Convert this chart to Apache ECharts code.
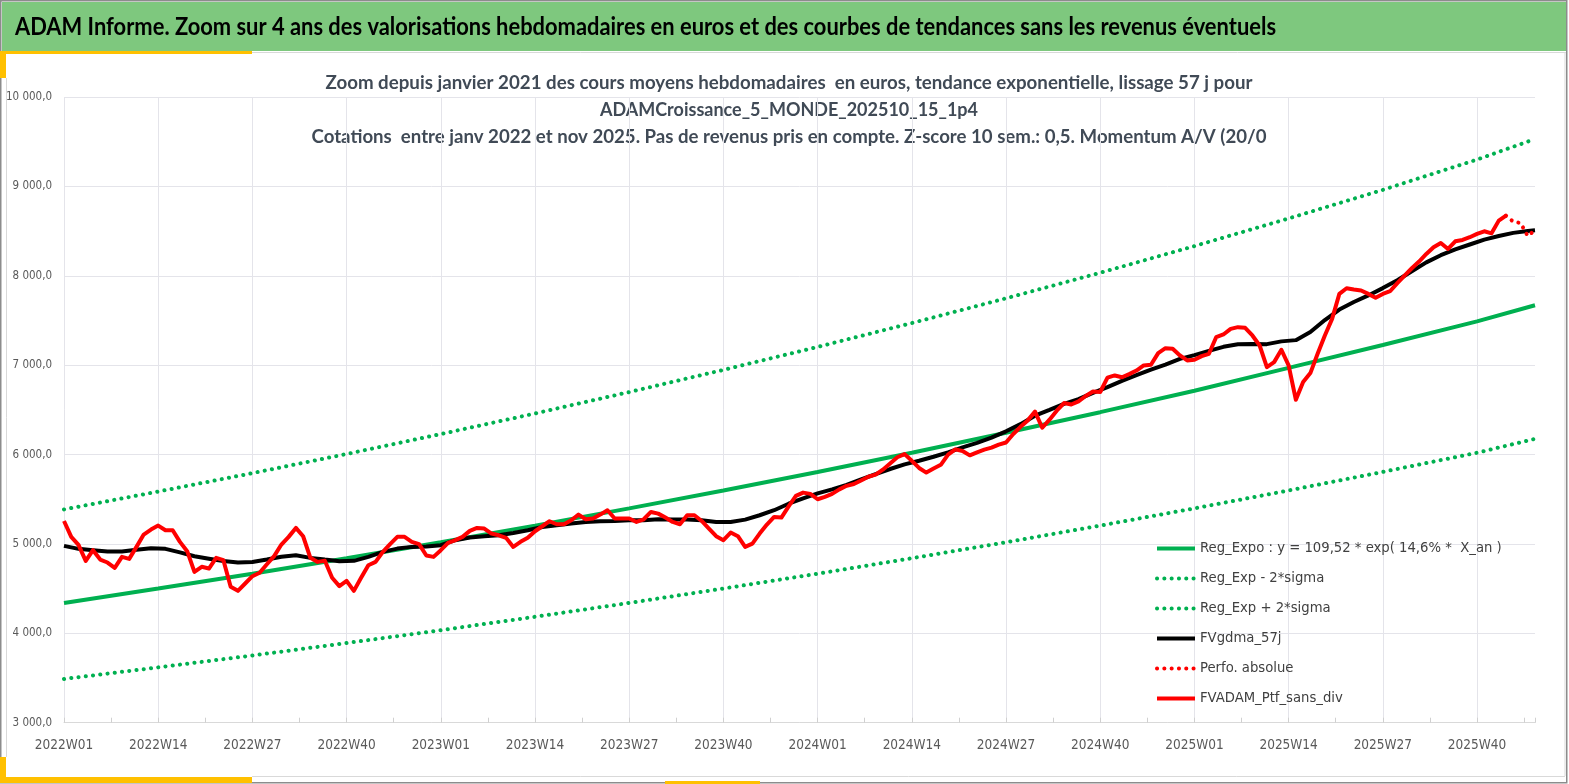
<!DOCTYPE html>
<html>
<head>
<meta charset="utf-8">
<script src="https://cdn.jsdelivr.net/npm/echarts@6/dist/echarts.min.js"></script>
<style>
html,body{margin:0;padding:0;background:#fff;}
#chart{width:1569px;height:784px;}
</style>
</head>
<body>
<div id="chart"></div>
<script>
// ---------- DATA ----------
const yearWeeks = [[2022, 52], [2023, 52], [2024, 52], [2025, 48]];
const weeks = [];
yearWeeks.forEach(([y, n]) => { for (let w = 1; w <= n; w++) weeks.push(y + 'W' + (w < 10 ? '0' + w : w)); });

const mainTitle = 'ADAM Informe. Zoom sur 4 ans des valorisations hebdomadaires en euros et des courbes de tendances sans les revenus éventuels';
const subTitles = [
  'Zoom depuis janvier 2021 des cours moyens hebdomadaires  en euros, tendance exponentielle, lissage 57 j pour',
  'ADAMCroissance_5_MONDE_202510_15_1p4',
  'Cotations  entre janv 2022 et nov 2025. Pas de revenus pris en compte. Z-score 10 sem.: 0,5. Momentum A/V (20/0'
];
const seriesNames = ['Reg_Expo : y = 109,52 * exp( 14,6% *  X_an )', 'Reg_Exp - 2*sigma', 'Reg_Exp + 2*sigma', 'FVgdma_57j', 'Perfo. absolue', 'FVADAM_Ptf_sans_div'];

// [week index, value]
const regExpo = [[0,4340],[13,4501],[26,4667],[39,4840],[52,5019],[65,5205],[78,5398],[91,5598],[104,5805],[117,6020],[130,6243],[143,6474],[156,6714],[169,6970],[182,7225],[195,7490],[203,7670]];
const regLow  = [[0,3489],[13,3619],[26,3752],[39,3891],[52,4035],[65,4185],[78,4340],[91,4501],[104,4667],[117,4840],[130,5019],[143,5205],[156,5398],[169,5598],[182,5806],[195,6020],[203,6175]];
const regHigh = [[0,5386],[13,5586],[26,5792],[39,6006],[52,6229],[65,6459],[78,6699],[91,6947],[104,7204],[117,7471],[130,7748],[143,8034],[156,8332],[169,8641],[182,8961],[195,9300],[203,9530]];
const fvgdma = [[0,4978],[2,4945],[4,4930],[6,4915],[8,4915],[10,4935],[12,4952],[14,4945],[16,4905],[18,4862],
  [20,4835],[22,4808],[24,4792],[26,4798],[28,4825],[30,4856],[32,4874],[34,4844],[36,4825],[38,4807],
  [40,4811],[42,4855],[44,4911],[46,4948],[48,4967],[50,4970],[52,4986],[54,5042],[56,5071],[58,5086],
  [60,5097],[62,5123],[64,5153],[66,5190],[68,5209],[70,5228],[72,5246],[74,5254],[76,5257],[78,5265],
  [80,5265],[82,5276],[84,5272],[86,5272],[88,5265],[90,5246],[92,5246],[94,5272],[96,5321],[98,5377],
  [100,5450],[102,5510],[104,5565],[106,5610],[108,5660],[110,5722],[112,5780],[114,5838],[116,5890],[118,5930],
  [120,5975],[122,6025],[124,6080],[126,6130],[128,6190],[130,6260],[132,6340],[134,6435],[136,6500],[138,6567],
  [140,6620],[142,6690],[144,6755],[146,6825],[148,6888],[150,6950],[152,7005],[154,7070],[156,7112],[158,7160],
  [160,7205],[162,7233],[164,7238],[166,7235],[168,7266],[170,7280],[172,7370],[174,7505],[176,7622],[178,7707],
  [180,7780],[182,7862],[184,7950],[186,8050],[188,8150],[190,8230],[192,8295],[194,8350],[196,8405],[198,8445],
  [200,8480],[202,8500],[203,8508]];
const perfoAbs = [[199,8673],[200,8605],[201,8590],[202,8445],[203,8510]];
const fvadam = [
  5257,5079,4990,4810,4930,4825,4792,4732,4855,4833,
  4967,5105,5161,5205,5153,5153,5023,4919,4688,4744,
  4725,4844,4818,4520,4475,4557,4639,4677,4773,4863,
  4993,5079,5179,5086,4844,4799,4811,4621,4528,4587,
  4475,4621,4762,4799,4911,4997,5079,5079,5023,4997,
  4870,4855,4930,5012,5042,5079,5146,5179,5172,5116,
  5097,5068,4967,5023,5068,5142,5198,5254,5220,5220,
  5265,5328,5276,5284,5328,5377,5284,5284,5284,5246,
  5276,5358,5339,5295,5246,5220,5321,5321,5257,5172,
  5086,5042,5127,5086,4967,5004,5116,5217,5302,5295,
  5421,5537,5574,5560,5500,5526,5560,5610,5650,5670,
  5710,5752,5775,5831,5900,5970,6005,5930,5850,5798,
  5843,5885,5999,6058,6040,5991,6025,6055,6077,6110,
  6135,6230,6310,6382,6480,6300,6390,6490,6576,6560,
  6595,6655,6706,6700,6860,6885,6865,6900,6940,6997,
  7004,7135,7190,7183,7109,7053,7060,7101,7127,7313,
  7343,7406,7425,7418,7332,7220,6978,7034,7172,6997,
  6613,6811,6911,7127,7332,7518,7797,7861,7846,7835,
  7797,7753,7797,7827,7917,8002,8084,8159,8244,8319,
  8367,8300,8386,8401,8431,8468,8498,8475,8617,8673
];
const yTicks = { min: 3000, max: 10000, step: 1000 };

// ---------- STYLE ----------
const FONT = '"Liberation Sans Narrow", "DejaVu Sans Condensed", "Roboto", sans-serif';
const TFONT = 'Lato, "Open Sans", sans-serif';
const GREEN = '#00B050', RED = '#FF0000', BLACK = '#000000';
const AXIS_TXT = '#595959';
const fmtY = v => String(Math.round(v)).replace(/\B(?=(\d{3})+(?!\d))/g, ' ') + ',0';
const dots = { type: [0.1, 7.2], cap: 'round', width: 4 };

// fit a text horizontally to a target width (layout only)
const mctx = document.createElement('canvas').getContext('2d');
function fitScale(text, font, target) { mctx.font = font; return target / mctx.measureText(text).width; }

const chart = echarts.init(document.getElementById('chart'));
const W = 1569, H = 784;

const titleFont = 'bold 24px ' + TFONT;
const subFont = 'bold 19px ' + TFONT;
const subTargets = [927, 378, 955];

const graphics = [
  { type: 'rect', shape: { x: 0.75, y: 0.75, width: W - 3, height: H - 2 }, style: { fill: '#fff', stroke: '#8c8c8c', lineWidth: 1.5 }, z: -10 },
  { type: 'rect', shape: { x: 2, y: 2, width: 1564, height: 49 }, style: { fill: '#7EC87E' }, z: -5 },
  { type: 'line', shape: { x1: 252, y1: 52.5, x2: 1566, y2: 52.5 }, style: { stroke: '#d9d9d9', lineWidth: 1 }, z: -5 },
  { type: 'line', shape: { x1: 6.5, y1: 78, x2: 6.5, y2: 757 }, style: { stroke: '#d9d9d9', lineWidth: 1 }, z: -5 },
  { type: 'line', shape: { x1: 1565, y1: 52, x2: 1565, y2: 776 }, style: { stroke: '#d9d9d9', lineWidth: 1 }, z: -5 },
  { type: 'line', shape: { x1: 252, y1: 776.5, x2: 1565, y2: 776.5 }, style: { stroke: '#d9d9d9', lineWidth: 1 }, z: -5 },
  { type: 'rect', shape: { x: 0, y: 51, width: 252, height: 3 }, style: { fill: '#FFC000' }, z: -4 },
  { type: 'rect', shape: { x: 0, y: 51, width: 6, height: 27 }, style: { fill: '#FFC000' }, z: -4 },
  { type: 'rect', shape: { x: 0, y: 777, width: 252, height: 6 }, style: { fill: '#FFC000' }, z: -4 },
  { type: 'rect', shape: { x: 0, y: 757, width: 6, height: 26 }, style: { fill: '#FFC000' }, z: -4 },
  { type: 'rect', shape: { x: 665, y: 781, width: 95, height: 3 }, style: { fill: '#FFC000' }, z: -4 },
  { type: 'text', x: 15, y: 27, scaleX: fitScale(mainTitle, titleFont, 1261),
    style: { text: mainTitle, fill: '#000', font: titleFont, textVerticalAlign: 'middle', textAlign: 'left' } }
];
subTitles.forEach((t, k) => graphics.push({
  type: 'text', x: 789, y: 83 + 27 * k, scaleX: fitScale(t, subFont, subTargets[k]),
  style: { text: t, fill: '#404A56', font: subFont, textAlign: 'center', textVerticalAlign: 'middle' }
}));

const lineBase = { type: 'line', symbol: 'none', showSymbol: false, connectNulls: true, animation: false, xAxisIndex: 0 };

chart.setOption({
  animation: false,
  graphic: graphics,
  grid: { left: 64, right: 34, top: 97, bottom: 61.3, containLabel: false },
  legend: {
    orient: 'vertical', left: 1155, top: 541, padding: 0,
    itemWidth: 38, itemHeight: 14, itemGap: 15,
    itemStyle: { opacity: 0 },
    lineStyle: { width: 4 },
    textStyle: { fontFamily: FONT, fontSize: 14.7, color: '#404040' },
    data: seriesNames
  },
  xAxis: [
    {
      type: 'category', data: weeks, boundaryGap: false,
      axisLine: { show: true, lineStyle: { color: '#D9D9D9', width: 1 } },
      axisTick: { show: false },
      axisLabel: { interval: 12, color: AXIS_TXT, fontFamily: FONT, fontSize: 13.5, margin: 16 },
      splitLine: { show: true, interval: 12, lineStyle: { color: '#E4E4EA', width: 1 } }
    },
    {
      type: 'value', min: 0, max: weeks.length - 1, interval: 6.5, position: 'bottom',
      axisLine: { show: false }, axisLabel: { show: false }, splitLine: { show: false },
      axisTick: { show: true, inside: true, length: 5, lineStyle: { color: '#D0D0D0' } }
    }
  ],
  yAxis: {
    type: 'value', min: yTicks.min, max: yTicks.max, interval: yTicks.step,
    axisLine: { show: false }, axisTick: { show: false },
    axisLabel: { formatter: fmtY, color: AXIS_TXT, fontFamily: FONT, fontSize: 11.5, margin: 12 },
    splitLine: { lineStyle: { color: '#E4E4EA', width: 1 } }
  },
  series: [
    Object.assign({}, lineBase, { name: seriesNames[0], data: regExpo, lineStyle: { color: GREEN, width: 4 }, itemStyle: { color: GREEN } }),
    Object.assign({}, lineBase, { name: seriesNames[1], data: regLow, lineStyle: Object.assign({ color: GREEN }, dots), itemStyle: { color: GREEN } }),
    Object.assign({}, lineBase, { name: seriesNames[2], data: regHigh, lineStyle: Object.assign({ color: GREEN }, dots), itemStyle: { color: GREEN } }),
    Object.assign({}, lineBase, { name: seriesNames[3], data: fvgdma, lineStyle: { color: BLACK, width: 4 }, itemStyle: { color: BLACK } }),
    Object.assign({}, lineBase, { name: seriesNames[4], data: perfoAbs, lineStyle: Object.assign({ color: RED }, dots), itemStyle: { color: RED } }),
    Object.assign({}, lineBase, { name: seriesNames[5], data: fvadam, lineStyle: { color: RED, width: 4, join: 'round' }, itemStyle: { color: RED } })
  ]
});
</script>
</body>
</html>
